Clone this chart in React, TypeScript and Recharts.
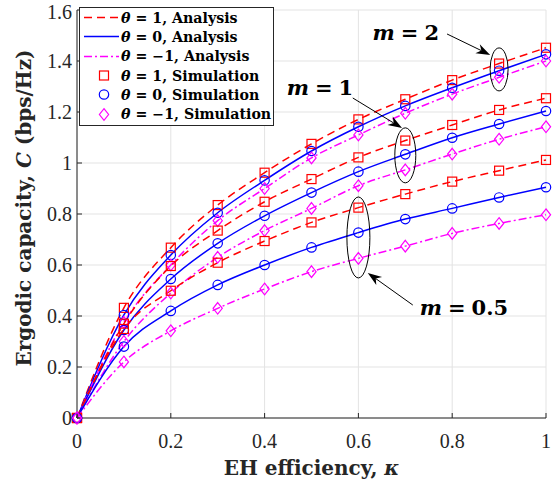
import React from 'react'
import {
  LineChart,
  Line,
  XAxis,
  YAxis,
  CartesianGrid,
  ReferenceDot,
  ReferenceLine,
} from 'recharts'

// EH efficiency samples
const kappa = [0, 0.1, 0.2, 0.3, 0.4, 0.5, 0.6, 0.7, 0.8, 0.9, 1]

// ergodic capacity, m = 2
const m2Theta1 = [0, 0.432, 0.668, 0.835, 0.962, 1.075, 1.171, 1.25, 1.325, 1.39, 1.452]
const m2Theta0 = [0, 0.404, 0.639, 0.805, 0.932, 1.047, 1.142, 1.224, 1.295, 1.362, 1.426]
const m2ThetaM1 = [0, 0.375, 0.6, 0.774, 0.9, 1.02, 1.11, 1.195, 1.27, 1.336, 1.4]
// m = 1
const m1Theta1 = [0, 0.37, 0.596, 0.735, 0.848, 0.937, 1.022, 1.088, 1.149, 1.208, 1.254]
const m1Theta0 = [0, 0.345, 0.545, 0.685, 0.793, 0.884, 0.966, 1.034, 1.099, 1.153, 1.204]
const m1ThetaM1 = [0, 0.3, 0.49, 0.63, 0.735, 0.822, 0.911, 0.973, 1.035, 1.093, 1.142]
// m = 0.5
const m05Theta1 = [0, 0.349, 0.499, 0.609, 0.694, 0.767, 0.825, 0.878, 0.927, 0.97, 1.012]
const m05Theta0 = [0, 0.28, 0.42, 0.522, 0.6, 0.669, 0.727, 0.78, 0.822, 0.865, 0.905]
const m05ThetaM1 = [0, 0.22, 0.342, 0.43, 0.506, 0.574, 0.626, 0.674, 0.724, 0.763, 0.797]

const xTicks = [0, 0.2, 0.4, 0.6, 0.8, 1]
const yTicks = [0, 0.2, 0.4, 0.6, 0.8, 1, 1.2, 1.4, 1.6]

// annotations (data coordinates)
const groupLabels = ['2', '1', '0.5']
const ellipseAt = [
  { x: 0.9, y: 1.367 },
  { x: 0.7, y: 1.03 },
  { x: 0.6, y: 0.708 },
]
const labelAt = [
  { x: 0.701, y: 1.514 },
  { x: 0.518, y: 1.298 },
  { x: 0.825, y: 0.435 },
]
const arrowFrom = [
  { x: 0.789, y: 1.506 },
  { x: 0.588, y: 1.255 },
  { x: 0.716, y: 0.443 },
]
const arrowTo = [
  { x: 0.881, y: 1.424 },
  { x: 0.693, y: 1.137 },
  { x: 0.62, y: 0.569 },
]

const RED = '#ff0000'
const BLUE = '#0000ff'
const MAGENTA = '#ff00ff'
const AXIS = '#262626'
const TICK_FONT = '"Liberation Serif", "Times New Roman", serif'
const TEX_FONT = '"DejaVu Serif", serif'

const series = [
  { key: 'm2t1', values: m2Theta1, theta: 1 },
  { key: 'm2t0', values: m2Theta0, theta: 0 },
  { key: 'm2tm1', values: m2ThetaM1, theta: -1 },
  { key: 'm1t1', values: m1Theta1, theta: 1 },
  { key: 'm1t0', values: m1Theta0, theta: 0 },
  { key: 'm1tm1', values: m1ThetaM1, theta: -1 },
  { key: 'm05t1', values: m05Theta1, theta: 1 },
  { key: 'm05t0', values: m05Theta0, theta: 0 },
  { key: 'm05tm1', values: m05ThetaM1, theta: -1 },
]

const thetaStyle: Record<number, { color: string; dash?: string; marker: string }> = {
  1: { color: RED, dash: '8 5', marker: 'square' },
  0: { color: BLUE, marker: 'circle' },
  [-1]: { color: MAGENTA, dash: '8 3 2 3', marker: 'diamond' },
}

const rows = kappa.map((k, i) => {
  const row: Record<string, number> = { kappa: k }
  series.forEach(s => {
    row[s.key] = s.values[i]
  })
  return row
})

function Marker({ shape, color, cx, cy }: { shape: string; color: string; cx: number; cy: number }) {
  if (shape === 'square') {
    return <rect x={cx - 4.5} y={cy - 4.5} width={9} height={9} fill="none" stroke={color} strokeWidth={1.2} />
  }
  if (shape === 'circle') {
    return <circle cx={cx} cy={cy} r={4.7} fill="none" stroke={color} strokeWidth={1.2} />
  }
  return (
    <polygon
      points={`${cx},${cy - 5.8} ${cx + 4.6},${cy} ${cx},${cy + 5.8} ${cx - 4.6},${cy}`}
      fill="none"
      stroke={color}
      strokeWidth={1.2}
    />
  )
}

function arrowShape(props: any) {
  const { x1, y1, x2, y2 } = props
  const ang = Math.atan2(y2 - y1, x2 - x1)
  const len = 14
  const half = 5
  const bx = x2 - len * Math.cos(ang)
  const by = y2 - len * Math.sin(ang)
  const nx = -Math.sin(ang) * half
  const ny = Math.cos(ang) * half
  const mx = x2 - len * 0.7 * Math.cos(ang)
  const my = y2 - len * 0.7 * Math.sin(ang)
  return (
    <g>
      <line x1={x1} y1={y1} x2={mx} y2={my} stroke="#000" strokeWidth={1} />
      <polygon points={`${x2},${y2} ${bx + nx},${by + ny} ${mx},${my} ${bx - nx},${by - ny}`} fill="#000" />
    </g>
  )
}

const legendItems = [
  { theta: 1, label: '1', kind: 'Analysis' },
  { theta: 0, label: '0', kind: 'Analysis' },
  { theta: -1, label: '\u22121', kind: 'Analysis' },
  { theta: 1, label: '1', kind: 'Simulation' },
  { theta: 0, label: '0', kind: 'Simulation' },
  { theta: -1, label: '\u22121', kind: 'Simulation' },
]

function ChartLegend() {
  return (
    <div style={styles.legend}>
      {legendItems.map((item, i) => {
        const st = thetaStyle[item.theta]
        return (
          <div key={i} style={styles.legendRow}>
            <svg width={39} height={19} style={{ display: 'block' }}>
              {item.kind === 'Analysis' ? (
                <line x1={3} y1={9.5} x2={38} y2={9.5} stroke={st.color} strokeWidth={1.5} strokeDasharray={st.dash} />
              ) : (
                <Marker shape={st.marker} color={st.color} cx={23} cy={9.5} />
              )}
            </svg>
            <span style={styles.legendText}>
              <i>θ</i> = {item.label}, {item.kind}
            </span>
          </div>
        )
      })}
    </div>
  )
}

export default function App() {
  return (
    <div style={styles.wrap}>
      <LineChart width={554} height={484} data={rows} margin={{ top: 10, right: 8, bottom: 0, left: 0 }}>
        <CartesianGrid stroke="#e3e3e3" strokeWidth={1} horizontalValues={yTicks} verticalValues={xTicks} />
        <XAxis
          dataKey="kappa"
          type="number"
          domain={[0, 1]}
          ticks={xTicks}
          height={66}
          stroke={AXIS}
          tickSize={-5}
          tickMargin={21}
          tick={{ fill: AXIS, fontSize: 20, fontFamily: TICK_FONT }}
          label={{
            content: ({ viewBox }: any) => (
              <text
                x={viewBox.x + viewBox.width / 2}
                y={475}
                textAnchor="middle"
                fontFamily={TEX_FONT}
                fontWeight="bold"
                fontSize={20}
                fill={AXIS}
              >
                EH efficiency, <tspan fontStyle="italic">κ</tspan>
              </text>
            ),
          }}
        />
        <XAxis xAxisId="top" dataKey="kappa" type="number" domain={[0, 1]} ticks={xTicks} orientation="top" height={0} stroke={AXIS} tickSize={-5} tick={false} />
        <YAxis
          type="number"
          domain={[0, 1.6]}
          ticks={yTicks}
          width={77}
          stroke={AXIS}
          tickSize={-5}
          tickMargin={10}
          tick={{ fill: AXIS, fontSize: 20, fontFamily: TICK_FONT }}
          label={{
            content: () => (
              <text
                x={0}
                y={0}
                transform="translate(31 208) rotate(-90)"
                textAnchor="middle"
                fontFamily={TEX_FONT}
                fontWeight="bold"
                fontSize={20}
                fill={AXIS}
              >
                Ergodic capacity, <tspan fontStyle="italic">C</tspan> (bps/Hz)
              </text>
            ),
          }}
        />
        <YAxis yAxisId="right" type="number" domain={[0, 1.6]} ticks={yTicks} orientation="right" width={0} stroke={AXIS} tickSize={-5} tick={false} />

        {series.map(s => {
          const st = thetaStyle[s.theta]
          return (
            <Line
              key={`a-${s.key}`}
              dataKey={s.key}
              type="monotone"
              stroke={st.color}
              strokeWidth={1.5}
              strokeDasharray={st.dash}
              dot={false}
              activeDot={false}
              isAnimationActive={false}
            />
          )
        })}
        {series.map(s => {
          const st = thetaStyle[s.theta]
          return (
            <Line
              key={`s-${s.key}`}
              dataKey={s.key}
              stroke="none"
              dot={(p: any) => <Marker key={`${s.key}-${p.index}`} shape={st.marker} color={st.color} cx={p.cx} cy={p.cy} />}
              activeDot={false}
              isAnimationActive={false}
            />
          )
        })}

        {groupLabels.map((g, i) => (
          <ReferenceDot
            key={`e-${g}`}
            x={ellipseAt[i].x}
            y={ellipseAt[i].y}
            shape={(p: any) => (
              <ellipse cx={p.cx} cy={p.cy} rx={[9, 10.5, 11.5][i]} ry={[21.5, 27.5, 40.5][i]} fill="none" stroke="#000" strokeWidth={1} />
            )}
          />
        ))}
        {groupLabels.map((g, i) => (
          <ReferenceLine
            key={`a-${g}`}
            segment={[arrowFrom[i], arrowTo[i]]}
            shape={arrowShape}
          />
        ))}
        {groupLabels.map((g, i) => (
          <ReferenceDot
            key={`t-${g}`}
            x={labelAt[i].x}
            y={labelAt[i].y}
            shape={(p: any) => (
              <text x={p.cx} y={p.cy} textAnchor="middle" dominantBaseline="central" fontFamily={TEX_FONT} fontWeight="bold" fontSize={21} fill="#000">
                <tspan fontStyle="italic">m</tspan>
                <tspan dx={6}>=</tspan>
                <tspan dx={6}>{g}</tspan>
              </text>
            )}
          />
        ))}
      </LineChart>
      <ChartLegend />
    </div>
  )
}

const styles = {
  wrap: {
    position: 'absolute',
    left: 0,
    top: 0,
    width: 554,
    height: 484,
    background: '#fff',
  },
  legend: {
    position: 'absolute',
    left: 79,
    top: 7,
    width: 195,
    height: 119,
    background: '#fff',
    border: '1px solid #262626',
    padding: '0 0 0 1px',
    boxSizing: 'border-box',
  },
  legendRow: {
    display: 'flex',
    alignItems: 'center',
    height: 19.3,
  },
  legendText: {
    marginLeft: 1,
    fontFamily: TEX_FONT,
    fontWeight: 'bold',
    fontSize: 14.2,
    color: '#000',
    whiteSpace: 'nowrap',
  },
} as const
